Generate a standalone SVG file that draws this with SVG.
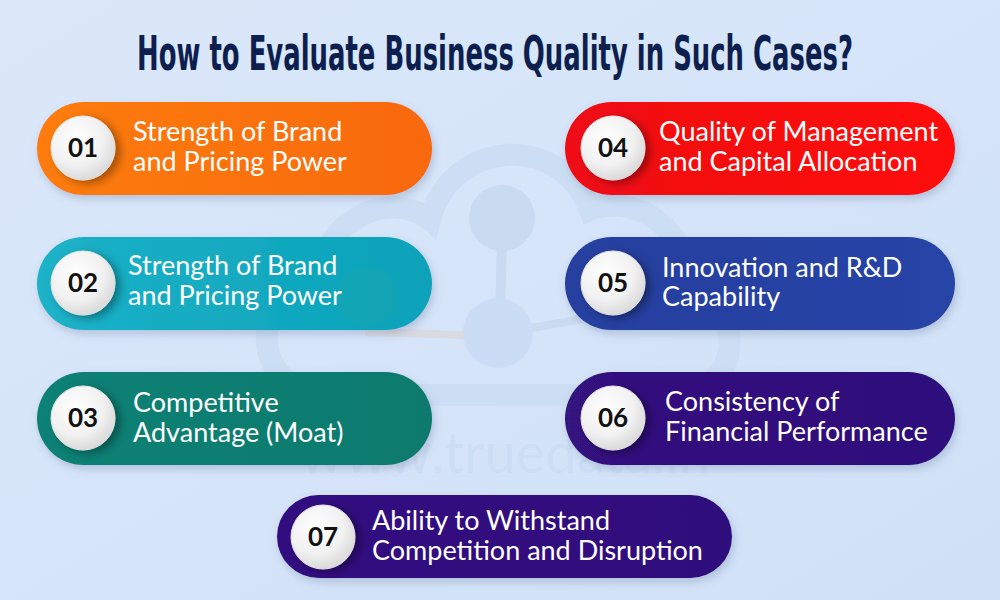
<svg xmlns="http://www.w3.org/2000/svg" width="1000" height="600" viewBox="0 0 1000 600">
  <defs>
    <linearGradient id="bg" x1="0" y1="0" x2="1" y2="1">
      <stop offset="0" stop-color="#dbe8fa"/>
      <stop offset="1" stop-color="#d0e1f7"/>
    </linearGradient>
    <radialGradient id="disc" cx="0.4" cy="0.35" r="0.7">
      <stop offset="0" stop-color="#ffffff"/>
      <stop offset="0.6" stop-color="#f1f1f1"/>
      <stop offset="1" stop-color="#d6d6d6"/>
    </radialGradient>
    <linearGradient id="g1" x1="0" y1="0" x2="1" y2="0"><stop offset="0" stop-color="#fd7c10"/><stop offset="1" stop-color="#f8690a"/></linearGradient>
    <linearGradient id="g2" x1="0" y1="0" x2="1" y2="0"><stop offset="0" stop-color="#1cb2c8"/><stop offset="1" stop-color="#0aa2b9"/></linearGradient>
    <linearGradient id="g3" x1="0" y1="0" x2="1" y2="0"><stop offset="0" stop-color="#0e8175"/><stop offset="1" stop-color="#097a6d"/></linearGradient>
    <linearGradient id="g4" x1="0" y1="0" x2="1" y2="0"><stop offset="0" stop-color="#ee0f14"/><stop offset="1" stop-color="#ff0808"/></linearGradient>
    <linearGradient id="g5" x1="0" y1="0" x2="1" y2="0"><stop offset="0" stop-color="#273f9f"/><stop offset="1" stop-color="#2744a6"/></linearGradient>
    <linearGradient id="g6" x1="0" y1="0" x2="1" y2="0"><stop offset="0" stop-color="#34127f"/><stop offset="1" stop-color="#2e0b7b"/></linearGradient>
    <linearGradient id="g7" x1="0" y1="0" x2="1" y2="0"><stop offset="0" stop-color="#330e80"/><stop offset="1" stop-color="#2f0a7c"/></linearGradient>
    <filter id="pillShadow" x="-10%" y="-20%" width="120%" height="150%">
      <feDropShadow dx="2" dy="4" stdDeviation="4" flood-color="#5a6f99" flood-opacity="0.3"/>
    </filter>
    <filter id="discShadow" x="-40%" y="-40%" width="190%" height="190%">
      <feDropShadow dx="5" dy="3" stdDeviation="4" flood-color="#000000" flood-opacity="0.35"/>
    </filter>
  </defs>
  <style>
    .label { font-family: Lato, "Open Sans", "Liberation Sans", sans-serif; font-size: 27px; fill: #ffffff; }
    .num { font-family: Lato, "Open Sans", "Liberation Sans", sans-serif; font-size: 26px; font-weight: 700; fill: #111111; text-anchor: middle; }
    .disc { fill: url(#disc); stroke: #e4e4e4; stroke-width: 1; filter: url(#discShadow); }
    .pill { filter: url(#pillShadow); }
    .title { font-family: "DejaVu Sans Condensed", "DejaVu Sans", "Liberation Sans", sans-serif; font-weight: 700; font-size: 48px; fill: #0d1f4f; }
    .wm { fill: none; stroke: #c9dcf3; stroke-width: 22; }
  </style>

  <rect x="0" y="0" width="1000" height="600" fill="url(#bg)"/>

  <!-- faint watermark -->
  <g id="watermark" opacity="0.7">
    <path class="wm" d="M330,395 C250,395 245,290 320,285 C320,215 395,190 430,220 C450,140 560,130 590,210 C640,190 700,240 680,290 C750,300 745,395 670,395 Z"/>
    <circle cx="502" cy="218" r="33" fill="#c3d7ef"/>
    <line x1="502" y1="240" x2="500" y2="320" stroke="#c3d7ef" stroke-width="10"/>
    <circle cx="498" cy="333" r="35" fill="#c6dbf3"/>
    <line x1="465" y1="335" x2="365" y2="332" stroke="#dcd6d8" stroke-width="8"/>
    <line x1="532" y1="328" x2="620" y2="312" stroke="#c6d6ec" stroke-width="8"/>
    <text x="505" y="473" text-anchor="middle" font-family="Lato, 'Open Sans', sans-serif" font-size="56" fill="#cadcf3">www.truedata.in</text>
  </g>

  <text id="title" class="title" x="137" y="70" textLength="716" lengthAdjust="spacingAndGlyphs">How to Evaluate Business Quality in Such Cases?</text>

  <g id="node01">
    <rect class="pill" x="37" y="102" width="395" height="93" rx="46.5" fill="url(#g1)"/>
    <circle class="disc" cx="83" cy="148" r="32"/>
    <text class="num" x="83" y="157">01</text>
    <text class="label" x="133" y="141">Strength of Brand</text>
    <text class="label" x="133" y="171">and Pricing Power</text>
  </g>

  <g id="node02">
    <rect class="pill" x="37" y="237" width="395" height="93" rx="46.5" fill="url(#g2)"/>
    <circle cx="368" cy="297" r="30" fill="#1ea5a8" opacity="0.35"/>
    <circle class="disc" cx="83" cy="283" r="32"/>
    <text class="num" x="83" y="292">02</text>
    <text class="label" x="128" y="275">Strength of Brand</text>
    <text class="label" x="128" y="305">and Pricing Power</text>
  </g>

  <g id="node03">
    <rect class="pill" x="37" y="372" width="395" height="93" rx="46.5" fill="url(#g3)"/>
    <circle class="disc" cx="83" cy="418" r="32"/>
    <text class="num" x="83" y="427">03</text>
    <text class="label" x="133" y="412">Competitive</text>
    <text class="label" x="133" y="442">Advantage (Moat)</text>
  </g>

  <g id="node04">
    <rect class="pill" x="565" y="102" width="390" height="93" rx="46.5" fill="url(#g4)"/>
    <circle class="disc" cx="613" cy="148" r="32"/>
    <text class="num" x="613" y="157">04</text>
    <text class="label" x="659" y="141">Quality of Management</text>
    <text class="label" x="659" y="171">and Capital Allocation</text>
  </g>

  <g id="node05">
    <rect class="pill" x="565" y="237" width="390" height="93" rx="46.5" fill="url(#g5)"/>
    <circle class="disc" cx="613" cy="283" r="32"/>
    <text class="num" x="613" y="292">05</text>
    <text class="label" x="662" y="277">Innovation and R&amp;D</text>
    <text class="label" x="662" y="306">Capability</text>
  </g>

  <g id="node06">
    <rect class="pill" x="565" y="372" width="390" height="93" rx="46.5" fill="url(#g6)"/>
    <circle class="disc" cx="613" cy="418" r="32"/>
    <text class="num" x="613" y="427">06</text>
    <text class="label" x="665" y="411">Consistency of</text>
    <text class="label" x="665" y="441">Financial Performance</text>
  </g>

  <g id="node07">
    <rect class="pill" x="277" y="495" width="455" height="83" rx="41.5" fill="url(#g7)"/>
    <circle class="disc" cx="323" cy="537" r="32"/>
    <text class="num" x="323" y="546">07</text>
    <text class="label" x="372" y="530">Ability to Withstand</text>
    <text class="label" x="372" y="560">Competition and Disruption</text>
  </g>

  <g id="connectors"/>
</svg>
